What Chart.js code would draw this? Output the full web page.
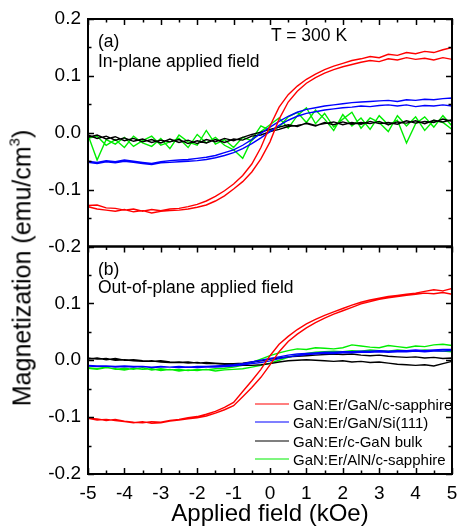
<!DOCTYPE html>
<html>
<head>
<meta charset="utf-8">
<script src="https://cdn.jsdelivr.net/npm/chart.js@4.4.1/dist/chart.umd.min.js"></script>
<style>
  html, body { margin: 0; padding: 0; background: #fff; }
  #wrap { position: relative; width: 458px; height: 531px; font-family: "Liberation Sans", Arial, sans-serif; color: #000; }
  #c { position: absolute; left: 0; top: 0; }
  .ann { position: absolute; font-size: 17.5px; line-height: 1; white-space: nowrap; transform: translateY(-50%); }
  #ytitle { position: absolute; left: 22px; top: 268px; font-size: 25px; white-space: nowrap; transform: translate(-50%, -50%) rotate(-90deg); }
  #ytitle sup { font-size: 15px; vertical-align: 0; position: relative; top: -11px; }
  .lg { position: absolute; left: 255px; font-size: 15px; line-height: 1; white-space: nowrap; transform: translateY(-50%); display: flex; align-items: center; }
  .lg span.ln { display: inline-block; width: 34px; height: 0; border-top: 1.5px solid; margin-right: 4px; }
</style>
</head>
<body>
<div id="wrap">
  <canvas id="c" width="458" height="531"></canvas>
  <div class="ann" style="left:98px; top:42px;">(a)</div>
  <div class="ann" style="left:98px; top:62px;">In-plane applied field</div>
  <div class="ann" style="left:271px; top:36px;">T = 300 K</div>
  <div class="ann" style="left:98px; top:270px;">(b)</div>
  <div class="ann" style="left:98px; top:288px;">Out-of-plane applied field</div>
  <div id="ytitle">Magnetization (emu/cm<sup>3</sup>)</div>
  <div id="legend"></div>
</div>
<script>
// ---------- data ----------
const field = [-5,-4.75,-4.5,-4.25,-4,-3.75,-3.5,-3.25,-3,-2.75,
  -2.5,-2.25,-2,-1.75,-1.5,-1.25,-1,-0.75,-0.5,-0.25,
  0,0.25,0.5,0.75,1,1.25,1.5,1.75,2,2.25,
  2.5,2.75,3,3.25,3.5,3.75,4,4.25,4.5,4.75,
  5];

const seriesNames = ["GaN:Er/GaN/c-sapphire", "GaN:Er/GaN/Si(111)", "GaN:Er/c-GaN bulk", "GaN:Er/AlN/c-sapphire"];
const seriesColors = ["#ff0000", "#0000ff", "#000000", "#00ee00"];

const xTicks = [-5,-4,-3,-2,-1,0,1,2,3,4,5];
const xMinorTicks = [-4.5,-3.5,-2.5,-1.5,-0.5,0.5,1.5,2.5,3.5,4.5];
const yTicks = [-0.2,-0.1,0,0.1,0.2];
const yMinorTicks = [-0.15,-0.05,0.05,0.15];

// panel (a) in-plane: ascending branch (up) and descending branch (dn), both listed from -5 to 5
const redA_up = [-0.130,-0.134,-0.136,-0.138,-0.135,-0.139,-0.137,-0.141,-0.138,-0.137,
  -0.136,-0.134,-0.131,-0.127,-0.120,-0.111,-0.099,-0.086,-0.069,-0.046,
  -0.016,0.024,0.054,0.073,0.087,0.097,0.105,0.111,0.116,0.120,
  0.124,0.127,0.125,0.130,0.128,0.132,0.129,0.131,0.128,0.132,
  0.129];
const redA_dn = [-0.128,-0.127,-0.132,-0.133,-0.136,-0.134,-0.138,-0.135,-0.137,-0.134,
  -0.133,-0.130,-0.126,-0.120,-0.112,-0.102,-0.090,-0.075,-0.055,-0.026,
  0.012,0.045,0.067,0.082,0.094,0.103,0.111,0.117,0.122,0.127,
  0.130,0.134,0.132,0.138,0.136,0.141,0.139,0.143,0.141,0.146,
  0.150];
const blueA_up = [-0.052,-0.054,-0.051,-0.053,-0.050,-0.052,-0.054,-0.056,-0.053,-0.052,
  -0.051,-0.050,-0.049,-0.047,-0.044,-0.040,-0.035,-0.028,-0.019,-0.009,
  0.002,0.013,0.022,0.029,0.034,0.037,0.040,0.042,0.044,0.045,
  0.047,0.046,0.048,0.049,0.047,0.049,0.046,0.048,0.047,0.049,
  0.047];
const blueA_dn = [-0.050,-0.052,-0.049,-0.051,-0.048,-0.050,-0.052,-0.054,-0.051,-0.049,
  -0.048,-0.047,-0.045,-0.043,-0.040,-0.035,-0.030,-0.022,-0.012,-0.001,
  0.010,0.020,0.029,0.036,0.041,0.044,0.047,0.049,0.051,0.053,
  0.054,0.055,0.056,0.057,0.055,0.058,0.057,0.059,0.058,0.060,
  0.061];
const blackA_up = [-0.004,-0.010,-0.006,-0.013,-0.009,-0.015,-0.011,-0.017,-0.013,-0.016,
  -0.012,-0.019,-0.014,-0.018,-0.012,-0.017,-0.011,-0.013,-0.006,-0.004,
  0.002,0.006,0.011,0.013,0.016,0.012,0.018,0.014,0.019,0.015,
  0.018,0.016,0.020,0.014,0.019,0.017,0.021,0.016,0.022,0.019,
  0.023];
const blackA_dn = [-0.008,-0.004,-0.011,-0.007,-0.014,-0.010,-0.016,-0.012,-0.018,-0.011,
  -0.017,-0.013,-0.019,-0.012,-0.016,-0.010,-0.014,-0.008,-0.003,0.001,
  0.006,0.010,0.014,0.011,0.017,0.013,0.016,0.019,0.014,0.018,
  0.015,0.020,0.016,0.018,0.015,0.021,0.017,0.020,0.018,0.024,
  0.020];
const greenA_up = [-0.004,-0.048,-0.012,-0.020,-0.008,-0.024,-0.014,-0.006,-0.022,-0.016,
  -0.010,-0.026,-0.003,-0.018,-0.008,-0.022,-0.030,-0.045,-0.012,0.012,
  0.004,0.010,0.028,0.036,0.018,0.040,0.024,0.004,0.032,0.012,
  0.026,0.006,0.030,0.014,0.022,-0.018,0.016,0.028,0.010,0.030,
  0.012];
const greenA_dn = [-0.010,-0.006,-0.022,-0.012,-0.026,-0.006,-0.018,-0.024,-0.010,-0.028,
  -0.004,-0.016,-0.022,0.004,-0.020,-0.012,-0.026,-0.008,-0.014,0.002,
  0.014,0.026,0.008,0.030,0.044,0.016,0.034,0.010,0.024,0.036,
  0.008,0.026,0.018,0.002,0.030,0.012,0.028,0.004,0.022,0.018,
  0.006];

// panel (b) out-of-plane
const redB_up = [-0.102,-0.105,-0.104,-0.106,-0.108,-0.110,-0.108,-0.111,-0.110,-0.107,
  -0.105,-0.103,-0.101,-0.098,-0.093,-0.087,-0.080,-0.064,-0.048,-0.030,
  -0.008,0.015,0.033,0.046,0.057,0.066,0.074,0.081,0.087,0.093,
  0.099,0.103,0.107,0.110,0.112,0.114,0.116,0.118,0.117,0.119,
  0.116];
const redB_dn = [-0.102,-0.103,-0.106,-0.104,-0.107,-0.109,-0.110,-0.108,-0.109,-0.106,
  -0.104,-0.101,-0.099,-0.095,-0.090,-0.083,-0.074,-0.055,-0.036,-0.016,
  0.008,0.028,0.042,0.054,0.064,0.072,0.079,0.085,0.091,0.097,
  0.102,0.106,0.109,0.112,0.114,0.116,0.118,0.121,0.124,0.122,
  0.126];
const blueB_up = [-0.010,-0.011,-0.010,-0.012,-0.011,-0.012,-0.011,-0.013,-0.012,-0.012,
  -0.013,-0.012,-0.013,-0.012,-0.012,-0.011,-0.010,-0.008,-0.006,-0.004,
  -0.001,0.003,0.006,0.008,0.010,0.011,0.012,0.012,0.013,0.013,
  0.014,0.014,0.015,0.014,0.015,0.015,0.016,0.015,0.016,0.016,
  0.017];
const blueB_dn = [-0.009,-0.010,-0.010,-0.011,-0.010,-0.011,-0.011,-0.012,-0.011,-0.012,
  -0.011,-0.012,-0.011,-0.011,-0.010,-0.009,-0.008,-0.006,-0.003,0.000,
  0.003,0.006,0.009,0.011,0.012,0.013,0.014,0.014,0.015,0.015,
  0.016,0.016,0.017,0.016,0.017,0.017,0.018,0.017,0.018,0.019,
  0.019];
const blackB_up = [0.004,0.002,0.003,0.000,0.001,-0.001,-0.002,-0.001,-0.003,-0.004,
  -0.003,-0.005,-0.004,-0.006,-0.006,-0.007,-0.008,-0.009,-0.009,-0.008,
  -0.006,-0.003,-0.001,0.000,0.001,0.000,-0.001,-0.002,-0.001,-0.003,
  -0.002,-0.004,-0.003,-0.005,-0.007,-0.008,-0.009,-0.008,-0.010,-0.006,
  -0.002];
const blackB_dn = [0.002,0.004,0.001,0.003,0.000,0.001,-0.001,-0.002,-0.001,-0.003,
  -0.004,-0.003,-0.005,-0.004,-0.005,-0.006,-0.006,-0.005,-0.003,-0.001,
  0.002,0.004,0.006,0.007,0.008,0.009,0.010,0.011,0.010,0.011,
  0.009,0.008,0.009,0.007,0.006,0.005,0.006,0.004,0.005,0.003,
  0.004];
const greenB_up = [-0.014,-0.016,-0.013,-0.015,-0.017,-0.014,-0.016,-0.015,-0.018,-0.016,
  -0.019,-0.017,-0.018,-0.016,-0.019,-0.017,-0.016,-0.015,-0.012,-0.009,
  -0.005,0.000,0.005,0.009,0.012,0.014,0.015,0.016,0.015,0.017,
  0.016,0.018,0.017,0.016,0.018,0.017,0.016,0.018,0.017,0.016,
  0.015];
const greenB_dn = [-0.013,-0.015,-0.012,-0.016,-0.014,-0.016,-0.013,-0.017,-0.015,-0.017,
  -0.016,-0.018,-0.016,-0.017,-0.015,-0.014,-0.012,-0.009,-0.004,0.002,
  0.008,0.013,0.017,0.020,0.019,0.022,0.021,0.020,0.022,0.027,
  0.025,0.023,0.022,0.026,0.024,0.022,0.025,0.024,0.027,0.028,
  0.026];

// ---------- build ----------
function loop(up, dn) {
  const a = field.map((f, i) => ({ x: f, y: up[i] }));
  const b = field.map((f, i) => ({ x: f, y: dn[i] })).reverse();
  return a.concat(b);
}
const panelA = [[redA_up, redA_dn], [blueA_up, blueA_dn], [blackA_up, blackA_dn], [greenA_up, greenA_dn]];
const panelB = [[redB_up, redB_dn], [blueB_up, blueB_dn], [blackB_up, blackB_dn], [greenB_up, greenB_dn]];

const datasets = [];
[[panelA, 'yTop'], [panelB, 'yBot']].forEach(([panel, axis]) => {
  panel.forEach((pair, i) => {
    datasets.push({
      label: seriesNames[i],
      data: loop(pair[0], pair[1]),
      yAxisID: axis,
      borderColor: seriesColors[i],
      backgroundColor: seriesColors[i],
      borderWidth: 1.4,
      pointRadius: 0,
      showLine: true,
      tension: 0,
      fill: false
    });
  });
});

// legend (HTML text)
const legendEl = document.getElementById('legend');
const legendY = [404, 422, 441, 459];
seriesNames.forEach((n, i) => {
  const d = document.createElement('div');
  d.className = 'lg';
  d.style.top = legendY[i] + 'px';
  d.innerHTML = '<span class="ln" style="border-color:' + seriesColors[i] + '"></span><span>' + n + '</span>';
  legendEl.appendChild(d);
});

const FONT = "'Liberation Sans', Arial, sans-serif";
const fmt = v => (Math.abs(v) < 1e-9 ? '0.0' : v.toFixed(1));

const frameTicks = {
  id: 'frameTicks',
  afterDatasetsDraw(chart) {
    const ctx = chart.ctx, xs = chart.scales.x, ca = chart.chartArea;
    const panels = [chart.scales.yTop, chart.scales.yBot];
    ctx.save();
    ctx.strokeStyle = '#000';
    ctx.lineCap = 'butt';
    ctx.lineWidth = 1.5;
    ctx.beginPath();
    panels.forEach((s) => {
      const tick = (v, len) => {
        const y = Math.round(s.getPixelForValue(v)) + 0.5;
        ctx.moveTo(ca.left, y); ctx.lineTo(ca.left + len, y);
        ctx.moveTo(ca.right, y); ctx.lineTo(ca.right - len, y);
      };
      yTicks.forEach(v => tick(v, 6));
      yMinorTicks.forEach(v => tick(v, 3.5));
      const xt = (v, len) => {
        const x = Math.round(xs.getPixelForValue(v)) + 0.5;
        ctx.moveTo(x, s.top); ctx.lineTo(x, s.top + len);
      };
      xTicks.forEach(v => xt(v, 6));
      xMinorTicks.forEach(v => xt(v, 3.5));
    });
    const sb = chart.scales.yBot;
    const xb = (v, len) => {
      const x = Math.round(xs.getPixelForValue(v)) + 0.5;
      ctx.moveTo(x, sb.bottom); ctx.lineTo(x, sb.bottom - len);
    };
    xTicks.forEach(v => xb(v, 6));
    xMinorTicks.forEach(v => xb(v, 3.5));
    ctx.stroke();
    ctx.lineWidth = 2;
    panels.forEach((s) => {
      ctx.strokeRect(ca.left, s.top, ca.right - ca.left, s.bottom - s.top);
    });
    ctx.restore();
  }
};

const yScale = (hideTop) => ({
  type: 'linear',
  position: 'left',
  stack: 'panels',
  stackWeight: 1,
  min: -0.2,
  max: 0.2,
  grid: { display: false, drawTicks: false },
  border: { display: false },
  ticks: {
    stepSize: 0.1,
    padding: 7,
    color: '#000',
    font: { family: FONT, size: 19 },
    callback: (v) => fmt(v)
  },
  afterBuildTicks: (s) => {
    if (hideTop) s.ticks = s.ticks.filter(t => t.value < 0.15);
  },
  afterFit: (s) => { s.width = 88; s.paddingTop = 0; s.paddingBottom = 0; }
});

new Chart(document.getElementById('c'), {
  type: 'scatter',
  data: { datasets },
  plugins: [frameTicks],
  options: {
    responsive: false,
    animation: false,
    devicePixelRatio: 1,
    layout: { padding: { top: 19, right: 0, left: 0, bottom: 0 } },
    plugins: { legend: { display: false }, tooltip: { enabled: false } },
    scales: {
      x: {
        type: 'linear',
        position: 'bottom',
        min: -5,
        max: 5,
        grid: { display: false, drawTicks: false },
        border: { display: false },
        ticks: {
          stepSize: 1,
          padding: 8,
          color: '#000',
          font: { family: FONT, size: 19 },
          callback: (v) => String(v)
        },
        title: {
          display: true,
          text: 'Applied field (kOe)',
          color: '#000',
          font: { family: FONT, size: 24 },
          padding: { top: 0, bottom: 2 }
        },
        afterFit: (s) => { s.height = 57; s.paddingLeft = 0; s.paddingRight = 6; }
      },
      yBot: yScale(true),
      yTop: yScale(false)
    }
  }
});
</script>
</body>
</html>
